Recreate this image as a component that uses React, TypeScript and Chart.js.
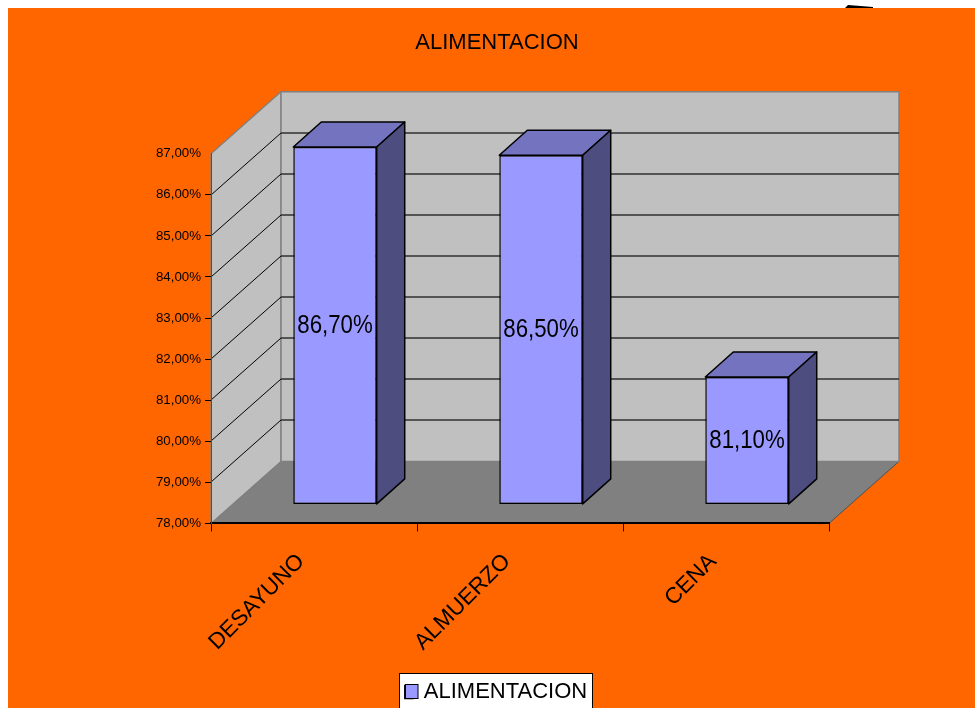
import React, { useEffect, useRef } from "react";
import { Chart, registerables } from "chart.js";

Chart.register(...registerables);

const categories = ["DESAYUNO", "ALMUERZO", "CENA"];
const seriesName = "ALIMENTACION";
const values = [86.7, 86.5, 81.1];
const axisMin = 78;
const axisMax = 87;

const FONT = "'Liberation Sans', Arial, sans-serif";
const ORANGE = "#ff6600";
const WALL_DX = 70;
const WALL_DY = 62;
const BAR_DX = 21;
const BAR_DY = 19;
const DEPTH_DX = 28;
const DEPTH_DY = 25;

const pct = (v: number) => v.toFixed(2).replace(".", ",") + "%";

const poly = (ctx: any, pts: number[][], fill?: string, stroke?: string, lw = 1) => {
  ctx.beginPath();
  pts.forEach((p, i) => (i ? ctx.lineTo(p[0], p[1]) : ctx.moveTo(p[0], p[1])));
  ctx.closePath();
  if (fill) {
    ctx.fillStyle = fill;
    ctx.fill();
  }
  if (stroke) {
    ctx.strokeStyle = stroke;
    ctx.lineWidth = lw;
    ctx.stroke();
  }
};

const scene3d = {
  id: "scene3d",
  afterLayout(chart: any) {
    chart.titleBlock.left += 82.5;
    chart.titleBlock.right += 82.5;
    chart.legend.left += 81.5;
    chart.legend.right += 81.5;
    chart.legend.top += 5;
    chart.legend.bottom += 5;
  },
  beforeDraw(chart: any) {
    const { ctx, width, height, chartArea: a, scales } = chart;
    ctx.save();
    ctx.fillStyle = ORANGE;
    ctx.fillRect(8, 8, width - 8, height - 8);
    // small dark mark on the top edge
    poly(ctx, [[845, 8], [848, 5], [873, 7], [873, 8]], "#000");
    // legend frame
    ctx.fillStyle = "#fff";
    ctx.fillRect(399, 673, 193, 35);
    ctx.strokeStyle = "#000";
    ctx.lineWidth = 1;
    ctx.strokeRect(399.5, 673.5, 193, 40);
    // walls and floor
    const { left: l, right: r, top: t, bottom: b } = a;
    poly(ctx, [[l, b], [l + WALL_DX, b - WALL_DY], [r + WALL_DX, b - WALL_DY], [r, b]], "#808080", "#505050");
    poly(ctx, [[l, t], [l + WALL_DX, t - WALL_DY], [l + WALL_DX, b - WALL_DY], [l, b]], "#c0c0c0", "#808080", 1.2);
    poly(ctx, [[l + WALL_DX, t - WALL_DY], [r + WALL_DX, t - WALL_DY], [r + WALL_DX, b - WALL_DY], [l + WALL_DX, b - WALL_DY]], "#c0c0c0", "#808080", 1.5);
    // grid
    scales.y.ticks.forEach((tk: any) => {
      if (tk.value === axisMin || tk.value === axisMax) return;
      const y = Math.round(scales.y.getPixelForValue(tk.value));
      ctx.beginPath();
      ctx.moveTo(l, y);
      ctx.lineTo(l + WALL_DX, y - WALL_DY);
      ctx.strokeStyle = "#000";
      ctx.lineWidth = 1;
      ctx.stroke();
      ctx.beginPath();
      ctx.moveTo(l + WALL_DX, y - WALL_DY);
      ctx.lineTo(r + WALL_DX, y - WALL_DY);
      ctx.strokeStyle = "#303030";
      ctx.lineWidth = 1.6;
      ctx.stroke();
    });
    ctx.restore();
  },
  beforeDatasetsDraw(chart: any) {
    chart.ctx.save();
    chart.ctx.translate(BAR_DX, -BAR_DY);
  },
  afterDatasetsDraw(chart: any) {
    const { ctx } = chart;
    ctx.restore();
    ctx.save();
    const els = chart.getDatasetMeta(0).data;
    els.forEach((el: any, i: number) => {
      const { x, y, width, base } = el.getProps(["x", "y", "width", "base"], true);
      const xl = x - width / 2 + BAR_DX;
      const xr = x + width / 2 + BAR_DX;
      const yt = y - BAR_DY;
      const yb = base - BAR_DY;
      ctx.lineJoin = "round";
      poly(ctx, [[xl, yt], [xl + DEPTH_DX, yt - DEPTH_DY], [xr + DEPTH_DX, yt - DEPTH_DY], [xr, yt]], "#7373bf", "#000", 1.5);
      poly(ctx, [[xr, yt], [xr + DEPTH_DX, yt - DEPTH_DY], [xr + DEPTH_DX, yb - DEPTH_DY], [xr, yb]], "#4d4d80", "#000", 1.5);
      ctx.save();
      ctx.translate((xl + xr) / 2, (yt + yb) / 2);
      ctx.scale(0.89, 1);
      ctx.font = `25px ${FONT}`;
      ctx.fillStyle = "#000";
      ctx.textAlign = "center";
      ctx.textBaseline = "middle";
      ctx.fillText(pct(values[i]), 0, 1);
      ctx.restore();
    });
    ctx.restore();
  },
  afterDraw(chart: any) {
    const { ctx } = chart;
    ctx.save();
    // legend swatch at its full size, over the library's narrower box
    ctx.fillStyle = "#9999ff";
    ctx.strokeStyle = "#000";
    ctx.lineWidth = 1;
    ctx.fillRect(405.5, 684.5, 12.5, 14);
    ctx.strokeRect(405.5, 684.5, 12.5, 14);
    ctx.restore();
  },
};

export default function App() {
  const ref = useRef<HTMLCanvasElement | null>(null);
  useEffect(() => {
    if (!ref.current) return;
    const chart = new Chart(ref.current, {
      type: "bar",
      plugins: [scene3d],
      data: {
        labels: categories,
        datasets: [
          {
            label: seriesName,
            data: values,
            base: axisMin,
            backgroundColor: "#9999ff",
            borderColor: "#000",
            borderWidth: 1.5,
            borderSkipped: false,
            categoryPercentage: 1,
            barPercentage: 0.405,
            clip: false,
          } as any,
        ],
      },
      options: {
        responsive: false,
        animation: false,
        layout: { padding: { left: 0, right: 146, top: 0, bottom: 0 } },
        plugins: {
          tooltip: { enabled: false },
          title: {
            display: true,
            text: seriesName,
            color: "#000",
            font: { family: FONT, size: 22, weight: "normal" },
            padding: { top: 30, bottom: 97.3 },
          },
          legend: {
            display: true,
            position: "bottom",
            labels: {
              color: "#000",
              font: { family: FONT, size: 22 },
              boxWidth: 8,
              boxHeight: 13,
              padding: 4,
            },
          },
        },
        scales: {
          x: {
            afterFit: (s: any) => {
              s.height = 148.6;
            },
            grid: { drawOnChartArea: false, color: "#000", tickLength: 8, offset: true },
            border: { color: "#000", width: 2 },
            ticks: {
              color: "#000",
              font: { family: FONT, size: 22.5 },
              minRotation: 45,
              maxRotation: 45,
              padding: 17,
              labelOffset: -13,
              autoSkip: false,
            },
          },
          y: {
            min: axisMin,
            max: axisMax,
            afterFit: (s: any) => {
              s.width = 211;
            },
            grid: {
              drawOnChartArea: false,
              tickLength: 6,
              tickColor: (c: any) => (c.tick && c.tick.value === axisMax ? "transparent" : "#000"),
            },
            border: { color: "#505050", width: 1 },
            ticks: {
              stepSize: 1,
              color: "#000",
              padding: 4,
              font: { family: FONT, size: 13.3 },
              callback: (v: any) => pct(Number(v)),
            },
          },
        },
      },
    } as any);
    return () => chart.destroy();
  }, []);
  return (
    <canvas
      ref={ref}
      width={975}
      height={708}
      style={{ position: "absolute", left: 0, top: 0, display: "block" }}
    />
  );
}
